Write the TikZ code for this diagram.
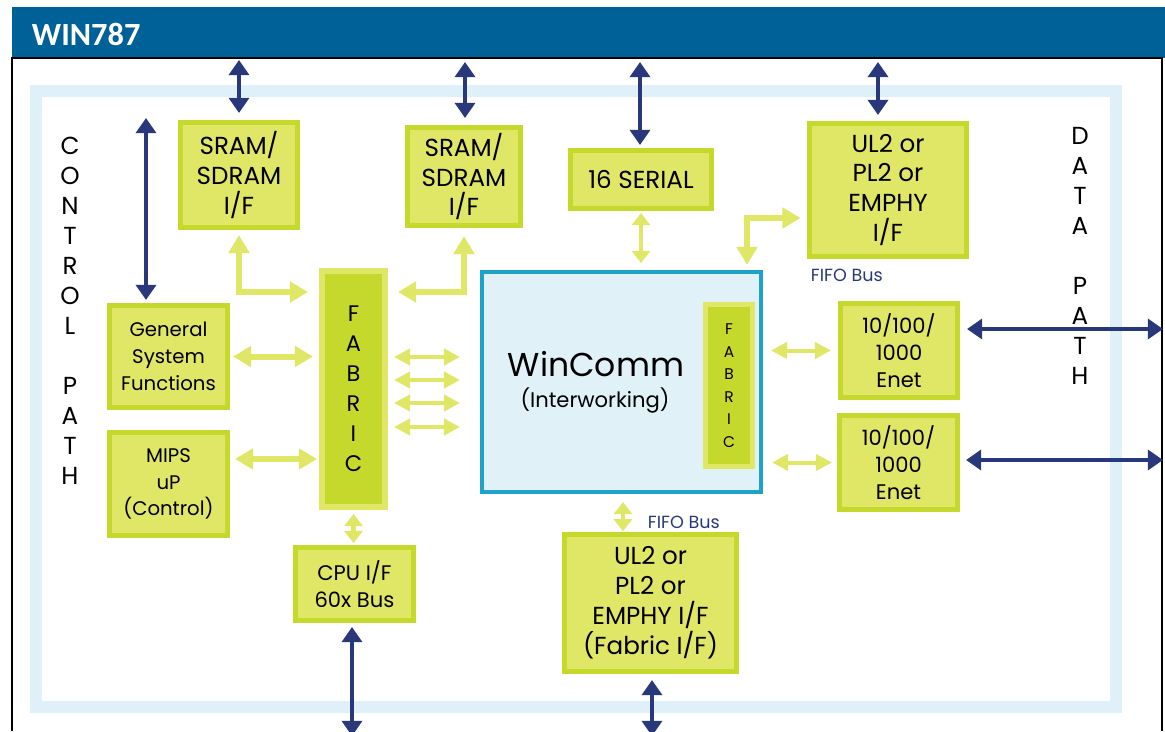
\documentclass[tikz,border=0pt]{standalone}
\usepackage{fontspec}
\setmainfont{Poppins}
\newfontfamily\headfont{Carlito}
\usetikzlibrary{arrows.meta}

\definecolor{hdrblue}{RGB}{0,96,152}
\definecolor{navy}{RGB}{40,56,122}
\definecolor{glite}{RGB}{224,230,101}
\definecolor{gdark}{RGB}{197,217,45}
\definecolor{bandblue}{RGB}{224,240,248}
\definecolor{wcblue}{RGB}{30,162,200}
\definecolor{wcfill}{RGB}{225,241,248}

\newcommand{\bigtxt}{\fontsize{17.5}{21.3}\selectfont}
\newcommand{\midtxt}{\fontsize{15}{19}\selectfont}
\newcommand{\smltxt}{\fontsize{14}{19}\selectfont}
\newcommand{\fabtxt}{\fontsize{16}{21.3}\selectfont}
\newcommand{\fabsmall}{\fontsize{11}{16}\selectfont}
\newcommand{\wctxt}{\fontsize{23.5}{28}\selectfont}
\newcommand{\fifotxt}{\fontsize{12.5}{14}\selectfont}

\tikzset{
  gbox/.style={draw=gdark, fill=glite, line width=0.125cm, align=center, inner sep=0pt},
  fabbox/.style={draw=glite, fill=gdark, line width=0.15cm, align=center, inner sep=0pt},
  letters/.style={align=center, inner sep=0pt},
  darr/.style={navy, line width=0.11cm, {Triangle[width=0.5cm,length=0.38cm]}-{Triangle[width=0.5cm,length=0.38cm]}},
  garr/.style={glite, line width=0.15cm, {Triangle[width=0.5cm,length=0.45cm]}-{Triangle[width=0.5cm,length=0.45cm]}},
  gsarr/.style={glite, line width=0.1cm, {Triangle[width=0.4cm,length=0.4cm]}-{Triangle[width=0.4cm,length=0.4cm]}},
  gvarr/.style={glite, line width=0.12cm, {Triangle[width=0.45cm,length=0.3cm]}-{Triangle[width=0.45cm,length=0.3cm]}},
}

\begin{document}
\begin{tikzpicture}[x=0.025cm, y=-0.025cm]
\useasboundingbox (0,0) rectangle (1165,731);
\clip (0,0) rectangle (1165,731);
% title bar and frame
\fill[hdrblue] (12,7) rectangle (1165,58);
\node[anchor=west, text=white, font=\headfont\bfseries\fontsize{23}{28}\selectfont] (title) at (27,34) {WIN787};
\draw[line width=0.04cm] (12,731) -- (12,58) -- (1162,58) -- (1162,731);
\draw[bandblue, line width=0.28cm] (36,91) rectangle (1116,707);

% blocks
\node[gbox, minimum width=2.925cm, minimum height=2.625cm, font=\bigtxt] (sramA) at (239,175) {SRAM/\\SDRAM\\I/F};
\node[gbox, minimum width=2.825cm, minimum height=2.45cm, font=\bigtxt] (sramB) at (464,176.5) {SRAM/\\SDRAM\\I/F};
\node[gbox, minimum width=3.525cm, minimum height=1.45cm, font=\bigtxt] (serial) at (641,179.5) {16 SERIAL};
\node[gbox, minimum width=3.9cm, minimum height=3.325cm, font=\bigtxt] (ulTop) at (888,190) {UL2 or\\PL2 or\\EMPHY\\I/F};
\node[gbox, minimum width=2.95cm, minimum height=2.55cm, font=\smltxt] (gsf) at (168.5,356.5) {General\\System\\Functions};
\node[gbox, minimum width=2.95cm, minimum height=2.575cm, font=\smltxt] (mips) at (168.5,484) {MIPS\\uP\\(Control)};
\node[fabbox, minimum width=1.575cm, minimum height=5.9cm, font=\fabtxt] (fabric) at (353.5,389) {F\\A\\B\\R\\I\\C};
\node[draw=wcblue, fill=wcfill, line width=0.1cm, minimum width=6.975cm, minimum height=5.5cm] (wincomm) at (621.5,382) {};
\node[font=\wctxt] (wcname) at (596,364) {WinComm};
\node[font=\midtxt] (wcsub) at (595,400) {(Interworking)};
\node[fabbox, line width=0.125cm, minimum width=1.175cm, minimum height=4.05cm, font=\fabsmall] (fabIn) at (729,385.5) {F\\A\\B\\R\\I\\C};
\node[gbox, minimum width=2.925cm, minimum height=2.35cm, font=\midtxt] (enetA) at (899,350.5) {10/100/\\1000\\Enet};
\node[gbox, minimum width=2.95cm, minimum height=2.35cm, font=\midtxt] (enetB) at (898.5,462.5) {10/100/\\1000\\Enet};
\node[gbox, minimum width=2.95cm, minimum height=1.825cm, font=\midtxt] (cpu) at (354.5,584) {CPU I/F\\60x Bus};
\node[gbox, minimum width=4.3cm, minimum height=3.425cm, font=\bigtxt] (ulBot) at (650.5,603) {UL2 or\\PL2 or\\EMPHY I/F\\(Fabric I/F)};

% labels
\node[text=navy, font=\fifotxt, anchor=west] (fifoA) at (806,275) {FIFO Bus};
\node[text=navy, font=\fifotxt, anchor=west] (fifoB) at (643,522) {FIFO Bus};
\node[letters, font=\bigtxt] (ctrl) at (70,311) {C\\O\\N\\T\\R\\O\\L\\[21.3pt]P\\A\\T\\H};
\node[letters, font=\bigtxt] (data) at (1080,256) {D\\A\\T\\A\\[21.3pt]P\\A\\T\\H};

% external buses
\coordinate (tA) at (239,60);
\coordinate (tB) at (465,62);
\coordinate (tC) at (640,62);
\coordinate (tD) at (878,62);
\coordinate (tE) at (146,118);
\coordinate (eA) at (1163,329);
\coordinate (eB) at (1163,460);
\coordinate (bA) at (352,736);
\coordinate (bB) at (652,736);
\draw[darr, shorten >=0.175cm] (tA) -- (tA |- sramA.north);
\draw[darr, shorten >=0.175cm] (tB) -- (tB |- sramB.north);
\draw[darr, shorten >=0.075cm] (tC) -- (tC |- serial.north);
\draw[darr, shorten >=0.15cm] (tD) -- (tD |- ulTop.north);
\draw[darr, shorten >=0.075cm] (tE) -- (tE |- gsf.north);
\draw[darr, shorten <=0.175cm] (enetA.east |- eA) -- (eA);
\draw[darr, shorten <=0.15cm] (enetB.east |- eB) -- (eB);
\draw[darr, shorten <=0.1cm] (bA |- cpu.south) -- (bA);
\draw[darr, shorten <=0.15cm] (bB |- ulBot.south) -- (bB);

% internal links
\coordinate (ulBend) at (747,218);
\coordinate (fb) at (623,0);
\draw[garr, shorten <=0.125cm, shorten >=0.275cm] (sramA.south) |- (fabric.west |- 0,292);
\draw[garr, shorten <=0.2cm, shorten >=0.25cm] (sramB.south) |- (fabric.east |- 0,292);
\draw[garr, shorten <=0.125cm, shorten >=0.175cm] (ulBend |- wincomm.north) |- (ulTop.west |- ulBend);
\draw[gvarr, shorten <=0.05cm, shorten >=0.175cm] (serial.south) -- (serial.south |- wincomm.north);
\draw[garr, shorten <=0.075cm, shorten >=0.15cm] (gsf.east) -- (gsf.east -| fabric.west);
\draw[garr, shorten <=0.125cm, shorten >=0.05cm] (mips.east |- 0,459) -- (fabric.west |- 0,459);
\foreach \yy in {357,380,403,427}
  \draw[gsarr, shorten <=0.15cm, shorten >=0.5cm] (fabric.east |- 0,\yy) -- (wincomm.west |- 0,\yy);
\draw[gsarr, shorten <=0.2cm, shorten >=0.175cm] (wincomm.east |- enetA.west) -- (enetA.west);
\draw[gsarr, shorten <=0.225cm, shorten >=0.125cm] (wincomm.east |- enetB.west) -- (enetB.west);
\draw[gvarr, shorten <=0.1cm, shorten >=0.05cm] (fabric.south) -- (fabric.south |- cpu.north);
\draw[gvarr, shorten <=0.2cm, shorten >=0.02cm] (fb |- wincomm.south) -- (fb |- ulBot.north);
\end{tikzpicture}
\end{document}
